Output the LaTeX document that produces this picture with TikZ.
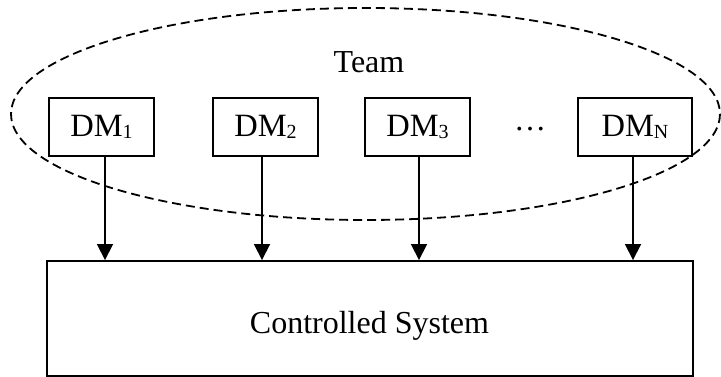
\documentclass[tikz,border=0pt]{standalone}
\usepackage{fontspec}
\setmainfont{Liberation Serif}
\usetikzlibrary{arrows.meta}
\newcommand{\dmsub}[1]{\raisebox{-0.08em}{\fontsize{20}{20}\selectfont #1}}
\tikzset{
  dmbox/.style={draw, line width=1.9pt, minimum width=105pt, minimum height=58pt,
    inner sep=0pt, font=\fontsize{32.5}{36}\selectfont},
  sysbox/.style={draw, line width=1.9pt, minimum width=646pt, minimum height=115pt,
    inner sep=0pt},
  label/.style={font=\fontsize{32}{36}\selectfont, inner sep=0pt, anchor=base},
  feed/.style={line width=1.8pt, -{Triangle[length=16pt,width=16pt]}},
  team/.style={line width=1.8pt, dash pattern=on 9pt off 5pt}
}
\begin{document}
\begin{tikzpicture}[x=1pt, y=-1pt]
  \useasboundingbox (0,0) rectangle (721,377);
  % team boundary
  \draw[team] (365.5,114) ellipse [x radius=354.5, y radius=106];
  \node[label] (teamlbl) at (369,73) {Team};
  % decision makers
  \node[dmbox] (dm1) at (101.5,127) {DM\dmsub{1}};
  \node[dmbox] (dm2) at (265.5,127) {DM\dmsub{2}};
  \node[dmbox] (dm3) at (417.5,127) {DM\dmsub{3}};
  \node[label] (dots) at (530,131) {\textellipsis};
  \node[dmbox, minimum width=114pt] (dmn) at (635,127) {DM\dmsub{N}};
  % controlled system
  \node[sysbox] (sys) at (370,318.5) {};
  \node[label] (syslbl) at (369.5,333) {Controlled System};
  % decisions into the system
  \draw[feed] (dm1.south -| 105,0) -- (sys.north -| 105,0);
  \draw[feed] (dm2.south -| 262,0) -- (sys.north -| 262,0);
  \draw[feed] (dm3.south -| 419,0) -- (sys.north -| 419,0);
  \draw[feed] (dmn.south -| 633,0) -- (sys.north -| 633,0);
\end{tikzpicture}
\end{document}
